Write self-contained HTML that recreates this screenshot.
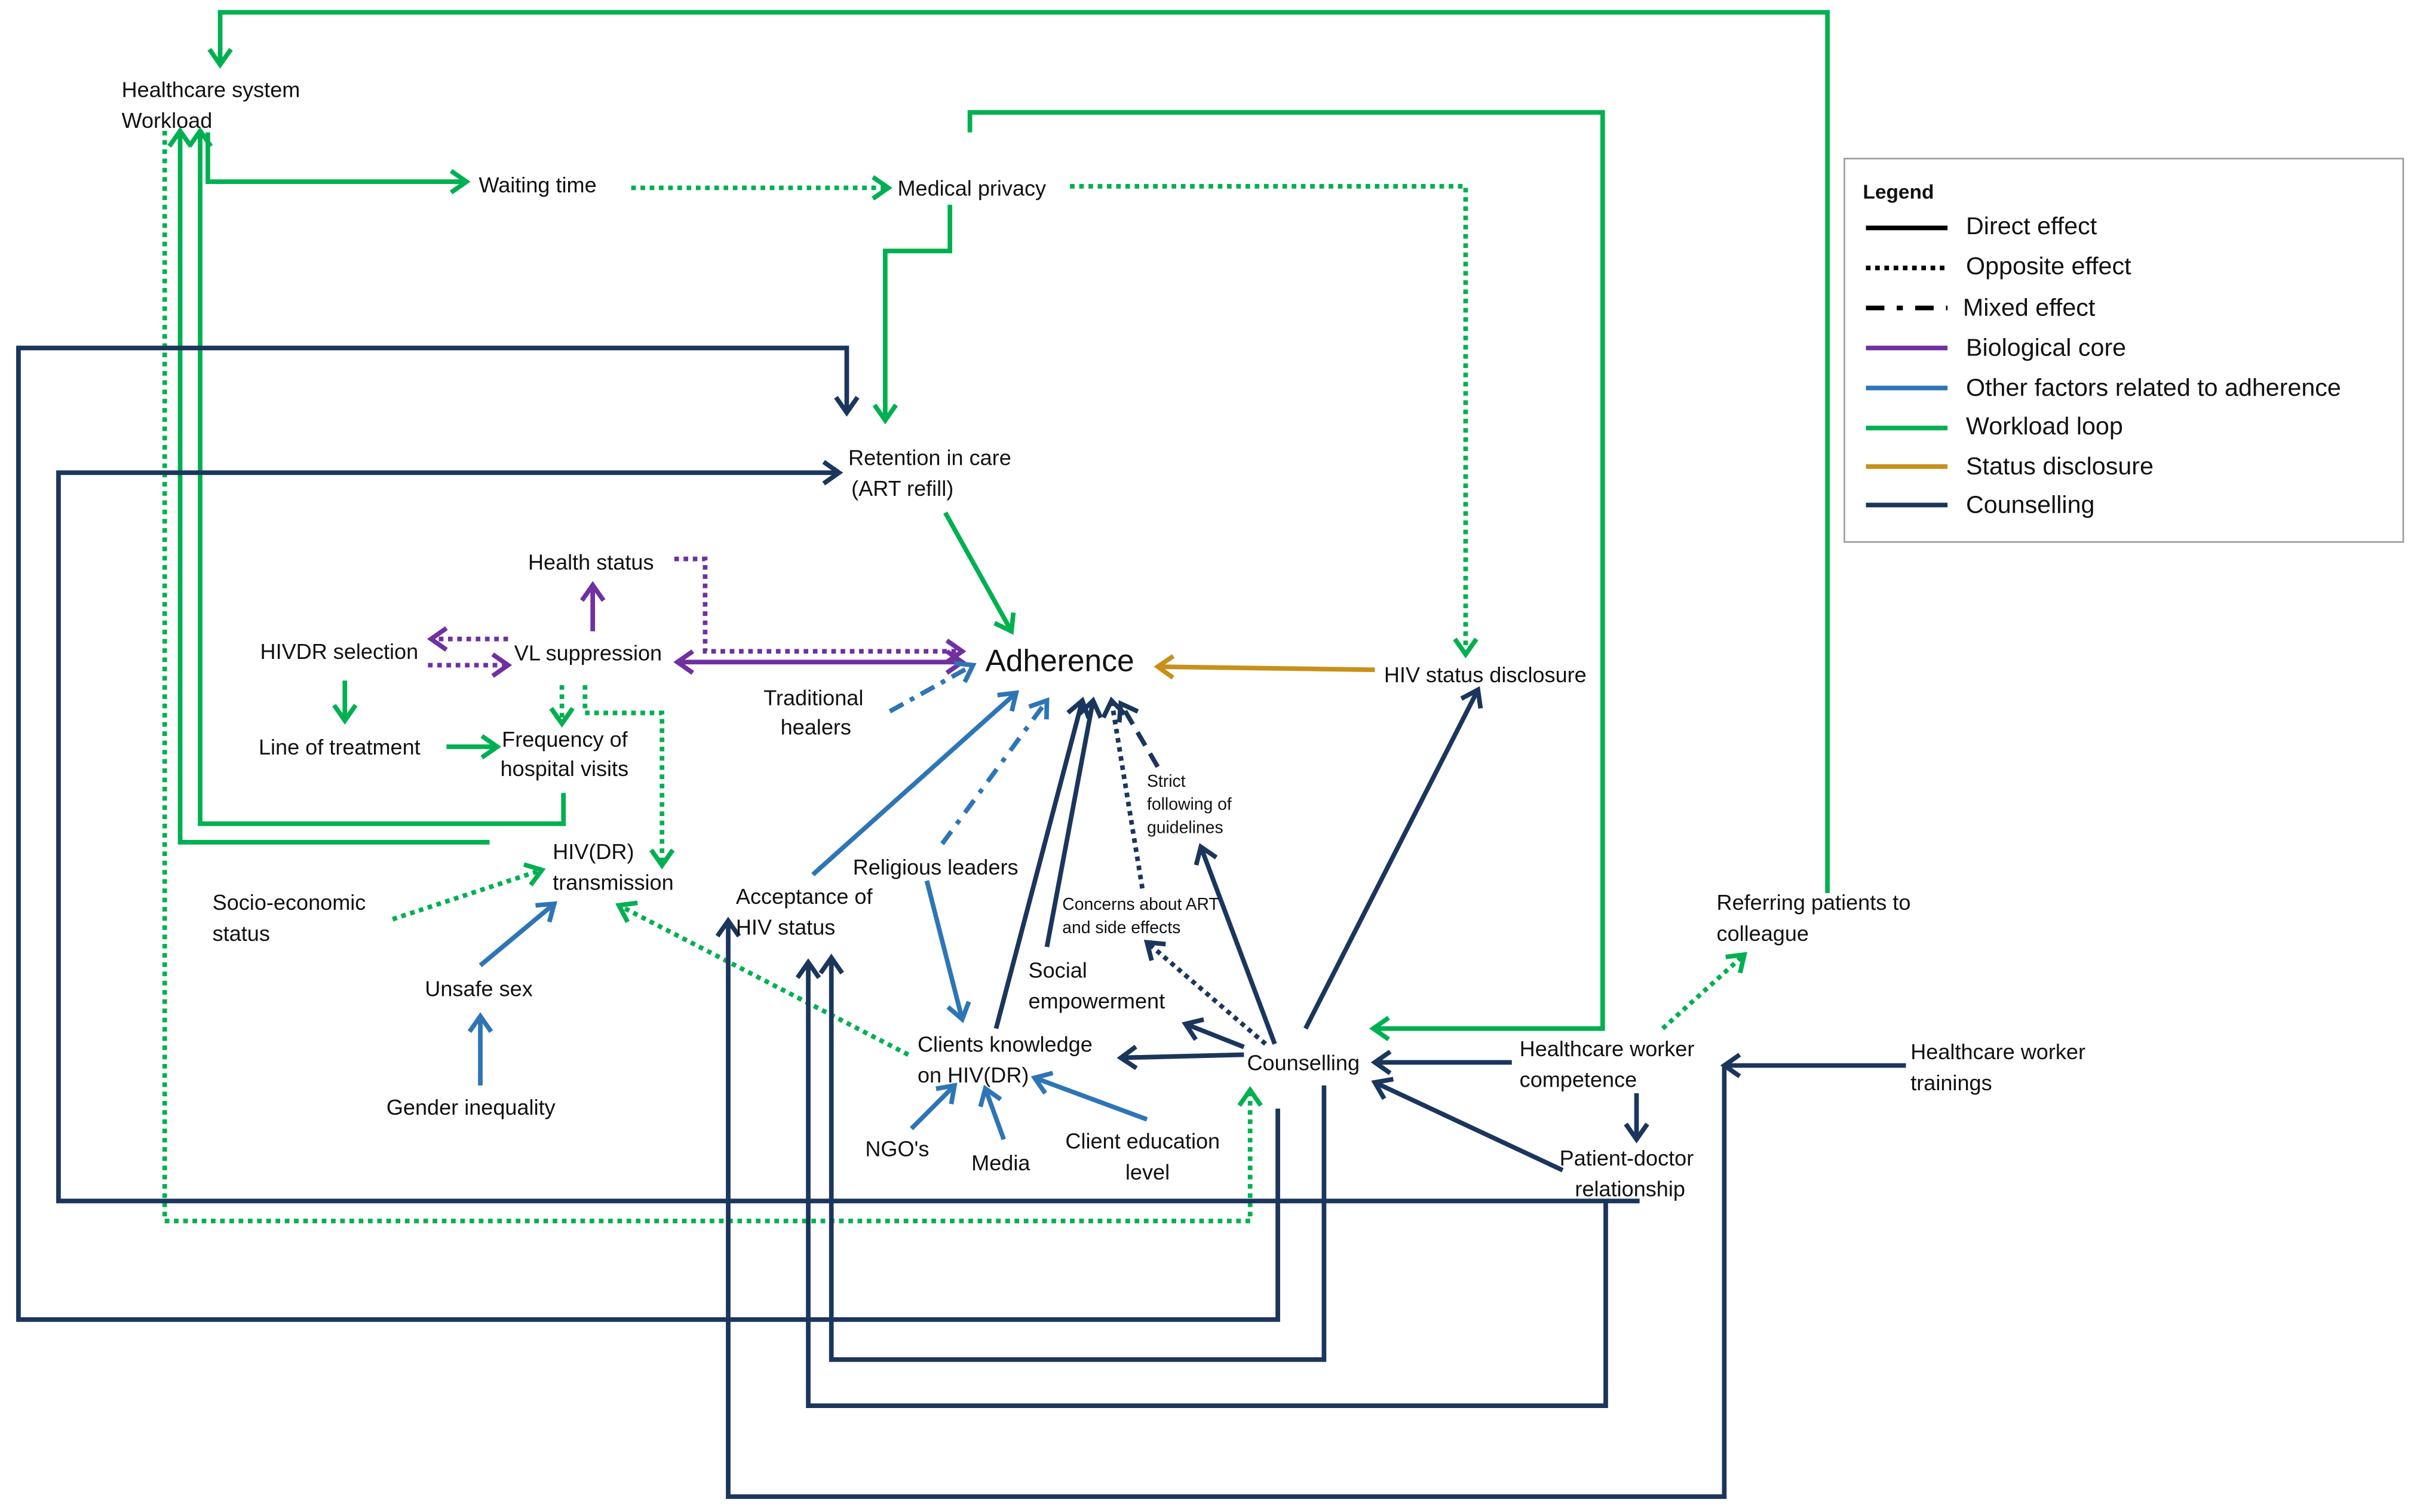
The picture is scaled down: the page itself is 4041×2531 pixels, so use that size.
<!DOCTYPE html>
<html><head><meta charset="utf-8"><style>
html,body{margin:0;padding:0;background:#fff}
svg{display:block}
text{font-family:"Liberation Sans",sans-serif;fill:#111;font-size:14px}
</style></head><body>
<svg width="4041" height="2531" viewBox="0 0 1568 982" preserveAspectRatio="none" xmlns="http://www.w3.org/2000/svg">
<defs>
<marker id="g" markerUnits="userSpaceOnUse" markerWidth="20" markerHeight="20" refX="11" refY="8" orient="auto-start-reverse" viewBox="0 0 20 16"><path d="M1,1 L11,8 L1,15" fill="none" stroke="#00b050" stroke-width="3"/></marker>
<marker id="n" markerUnits="userSpaceOnUse" markerWidth="20" markerHeight="20" refX="11" refY="8" orient="auto-start-reverse" viewBox="0 0 20 16"><path d="M1,1 L11,8 L1,15" fill="none" stroke="#1b365d" stroke-width="3"/></marker>
<marker id="b" markerUnits="userSpaceOnUse" markerWidth="20" markerHeight="20" refX="11" refY="8" orient="auto-start-reverse" viewBox="0 0 20 16"><path d="M1,1 L11,8 L1,15" fill="none" stroke="#2e75b6" stroke-width="3"/></marker>
<marker id="p" markerUnits="userSpaceOnUse" markerWidth="20" markerHeight="20" refX="11" refY="8" orient="auto-start-reverse" viewBox="0 0 20 16"><path d="M1,1 L11,8 L1,15" fill="none" stroke="#7030a0" stroke-width="3"/></marker>
<marker id="o" markerUnits="userSpaceOnUse" markerWidth="20" markerHeight="20" refX="11" refY="8" orient="auto-start-reverse" viewBox="0 0 20 16"><path d="M1,1 L11,8 L1,15" fill="none" stroke="#c8901a" stroke-width="3"/></marker>
</defs>
<g fill="none" stroke-width="3">
<!-- green -->
<g stroke="#00b050">
<path d="M1187,580 V8 H143 V42" marker-end="url(#g)"/>
<path d="M630,86 V73 H1041 V668 H892" marker-end="url(#g)"/>
<path d="M135,86 V118 H303" marker-end="url(#g)"/>
<path d="M617,133 V163 H575 V273" marker-end="url(#g)"/>
<path d="M614,333 L657,410" marker-end="url(#g)"/>
<path d="M224,442 V468" marker-end="url(#g)"/>
<path d="M290,485 H323" marker-end="url(#g)"/>
<path d="M366,515 V535 H130 V85" marker-end="url(#g)"/>
<path d="M318,547 H117 V85" marker-end="url(#g)"/>
</g>
<g stroke="#00b050" stroke-dasharray="3 3">
<path d="M410,122 H577" marker-end="url(#g)"/>
<path d="M695,121 H952 V425" marker-end="url(#g)"/>
<path d="M107,85 V793 H812 V708" marker-end="url(#g)"/>
<path d="M365,445 V470" marker-end="url(#g)"/>
<path d="M380,445 V463 H430 V562" marker-end="url(#g)"/>
<path d="M255,597 L352,565" marker-end="url(#g)"/>
<path d="M590,685 L402,588" marker-end="url(#g)"/>
<path d="M1080,668 L1133,620" marker-end="url(#g)"/>
</g>
<!-- purple -->
<g stroke="#7030a0">
<path d="M330,415 H280" stroke-dasharray="3 3" marker-end="url(#p)"/>
<path d="M278,432 H330" stroke-dasharray="3 3" marker-end="url(#p)"/>
<path d="M385,410 V380" marker-end="url(#p)"/>
<path d="M438,363 H458 V423 H625" stroke-dasharray="3 3" marker-end="url(#p)"/>
<path d="M440,430 H625" marker-start="url(#p)" marker-end="url(#p)"/>
</g>
<!-- blue -->
<g stroke="#2e75b6">
<path d="M578,462 L632,432" stroke-dasharray="10 5 3 5" marker-end="url(#b)"/>
<path d="M528,568 L660,450" marker-end="url(#b)"/>
<path d="M612,548 L680,455" stroke-dasharray="10 6 3 6" marker-end="url(#b)"/>
<path d="M602,572 L625,662" marker-end="url(#b)"/>
<path d="M312,627 L360,587" marker-end="url(#b)"/>
<path d="M312,705 V660" marker-end="url(#b)"/>
<path d="M592,733 L620,705" marker-end="url(#b)"/>
<path d="M652,740 L640,707" marker-end="url(#b)"/>
<path d="M745,727 L672,700" marker-end="url(#b)"/>
</g>
<!-- orange -->
<path d="M893,435 L752,433" stroke="#c8901a" marker-end="url(#o)"/>
<!-- navy -->
<g stroke="#1b365d">
<path d="M647,668 L703,455" marker-end="url(#n)"/>
<path d="M680,615 L710,455" marker-end="url(#n)"/>
<path d="M742,577 L722,455" stroke-dasharray="3 3" marker-end="url(#n)"/>
<path d="M752,498 L728,457" stroke-dasharray="10 6" marker-end="url(#n)"/>
<path d="M828,678 L780,550" marker-end="url(#n)"/>
<path d="M822,678 L745,612" stroke-dasharray="3 3" marker-end="url(#n)"/>
<path d="M808,685 L728,687" marker-end="url(#n)"/>
<path d="M808,680 L770,665" marker-end="url(#n)"/>
<path d="M848,668 L960,448" marker-end="url(#n)"/>
<path d="M982,690 H893" marker-end="url(#n)"/>
<path d="M1015,760 L893,703" marker-end="url(#n)"/>
<path d="M1063,710 V740" marker-end="url(#n)"/>
<path d="M1238,692 H1120" marker-end="url(#n)"/>
<path d="M830,720 V857 H12 V226 H550 V268" marker-end="url(#n)"/>
<path d="M1065,780 H38 V307 H545" marker-end="url(#n)"/>
<path d="M860,705 V883 H540 V622" marker-end="url(#n)"/>
<path d="M1043,780 V913 H525 V625" marker-end="url(#n)"/>
<path d="M1120,692 V972 H473 V598" marker-end="url(#n)"/>
</g>
</g>
<!-- labels -->
<text x="79" y="63">Healthcare system</text>
<text x="79" y="83">Workload</text>
<text x="311" y="125">Waiting time</text>
<text x="583" y="127">Medical privacy</text>
<text x="551" y="302">Retention in care</text>
<text x="553" y="322">(ART refill)</text>
<text x="343" y="370">Health status</text>
<text x="169" y="428">HIVDR selection</text>
<text x="334" y="429">VL suppression</text>
<text x="640" y="436" style="font-size:20px">Adherence</text>
<text x="899" y="443">HIV status disclosure</text>
<text x="496" y="458">Traditional</text>
<text x="507" y="477">healers</text>
<text x="168" y="490">Line of treatment</text>
<text x="326" y="485">Frequency of</text>
<text x="325" y="504">hospital visits</text>
<text x="745" y="511" style="font-size:11px">Strict</text>
<text x="745" y="526" style="font-size:11px">following of</text>
<text x="745" y="541" style="font-size:11px">guidelines</text>
<text x="554" y="568">Religious leaders</text>
<text x="359" y="558">HIV(DR)</text>
<text x="359" y="578">transmission</text>
<text x="478" y="587">Acceptance of</text>
<text x="478" y="607">HIV status</text>
<text x="138" y="591">Socio-economic</text>
<text x="138" y="611">status</text>
<text x="690" y="591" style="font-size:11px">Concerns about ART</text>
<text x="690" y="606" style="font-size:11px">and side effects</text>
<text x="1115" y="591">Referring patients to</text>
<text x="1115" y="611">colleague</text>
<text x="668" y="635">Social</text>
<text x="668" y="655">empowerment</text>
<text x="276" y="647">Unsafe sex</text>
<text x="596" y="683">Clients knowledge</text>
<text x="596" y="703">on HIV(DR)</text>
<text x="810" y="695">Counselling</text>
<text x="987" y="686">Healthcare worker</text>
<text x="987" y="706">competence</text>
<text x="1241" y="688">Healthcare worker</text>
<text x="1241" y="708">trainings</text>
<text x="251" y="724">Gender inequality</text>
<text x="692" y="746">Client education</text>
<text x="731" y="766">level</text>
<text x="562" y="751">NGO's</text>
<text x="631" y="760">Media</text>
<text x="1013" y="757">Patient-doctor</text>
<text x="1023" y="777">relationship</text>
<!-- legend -->
<rect x="1198" y="103" width="363" height="249" fill="#fff" stroke="#999" stroke-width="1"/>
<text x="1210" y="129" style="font-weight:bold;font-size:13px">Legend</text>
<g stroke-width="3" fill="none">
<line x1="1212" y1="148" x2="1265" y2="148" stroke="#000"/>
<line x1="1212" y1="174" x2="1265" y2="174" stroke="#000" stroke-dasharray="3 3"/>
<line x1="1212" y1="200" x2="1265" y2="200" stroke="#000" stroke-dasharray="12 8 4 8"/>
<line x1="1212" y1="226" x2="1265" y2="226" stroke="#7030a0"/>
<line x1="1212" y1="252" x2="1265" y2="252" stroke="#2e75b6"/>
<line x1="1212" y1="278" x2="1265" y2="278" stroke="#00b050"/>
<line x1="1212" y1="303" x2="1265" y2="303" stroke="#c8901a"/>
<line x1="1212" y1="328" x2="1265" y2="328" stroke="#1b365d"/>
</g>
<g style="font-size:16px">
<text x="1277" y="152" style="font-size:16px">Direct effect</text>
<text x="1277" y="178" style="font-size:16px">Opposite effect</text>
<text x="1275" y="205" style="font-size:16px">Mixed effect</text>
<text x="1277" y="231" style="font-size:16px">Biological core</text>
<text x="1277" y="257" style="font-size:16px">Other factors related to adherence</text>
<text x="1277" y="282" style="font-size:16px">Workload loop</text>
<text x="1277" y="308" style="font-size:16px">Status disclosure</text>
<text x="1277" y="333" style="font-size:16px">Counselling</text>
</g>
</svg>
</body></html>
